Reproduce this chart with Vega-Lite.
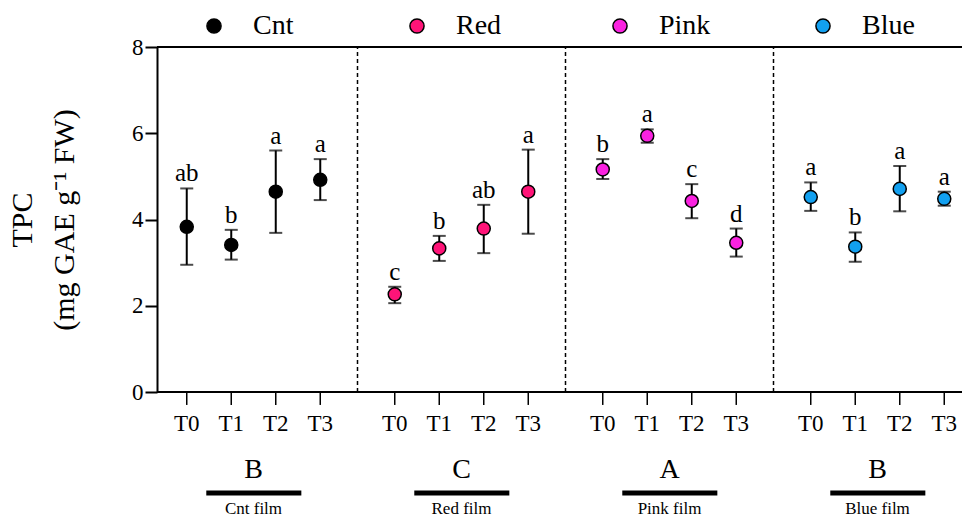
{
  "$schema": "https://vega.github.io/schema/vega-lite/v6.json",
  "width": 805,
  "height": 345,
  "autosize": {"type": "none"},
  "padding": {"left": 157, "top": 47, "right": 0, "bottom": 127},
  "background": "white",
  "config": {
    "view": {"stroke": null},
    "font": "Liberation Serif",
    "text": {"font": "Liberation Serif", "color": "black"}
  },
  "datasets": {
    "tpc": [
      {"group": "Cnt", "time": "T0", "mean": 3.83, "lo": 2.95, "hi": 4.72, "sig": "ab"},
      {"group": "Cnt", "time": "T1", "mean": 3.41, "lo": 3.07, "hi": 3.76, "sig": "b"},
      {"group": "Cnt", "time": "T2", "mean": 4.645, "lo": 3.69, "hi": 5.6, "sig": "a"},
      {"group": "Cnt", "time": "T3", "mean": 4.92, "lo": 4.45, "hi": 5.4, "sig": "a"},
      {"group": "Red", "time": "T0", "mean": 2.265, "lo": 2.06, "hi": 2.44, "sig": "c"},
      {"group": "Red", "time": "T1", "mean": 3.33, "lo": 3.04, "hi": 3.62, "sig": "b"},
      {"group": "Red", "time": "T2", "mean": 3.79, "lo": 3.22, "hi": 4.34, "sig": "ab"},
      {"group": "Red", "time": "T3", "mean": 4.645, "lo": 3.67, "hi": 5.62, "sig": "a"},
      {"group": "Pink", "time": "T0", "mean": 5.16, "lo": 4.94, "hi": 5.4, "sig": "b"},
      {"group": "Pink", "time": "T1", "mean": 5.94, "lo": 5.78, "hi": 6.09, "sig": "a"},
      {"group": "Pink", "time": "T2", "mean": 4.43, "lo": 4.03, "hi": 4.82, "sig": "c"},
      {"group": "Pink", "time": "T3", "mean": 3.46, "lo": 3.14, "hi": 3.79, "sig": "d"},
      {"group": "Blue", "time": "T0", "mean": 4.52, "lo": 4.2, "hi": 4.86, "sig": "a"},
      {"group": "Blue", "time": "T1", "mean": 3.37, "lo": 3.02, "hi": 3.7, "sig": "b"},
      {"group": "Blue", "time": "T2", "mean": 4.71, "lo": 4.19, "hi": 5.24, "sig": "a"},
      {"group": "Blue", "time": "T3", "mean": 4.48, "lo": 4.32, "hi": 4.645, "sig": "a"}
    ],
    "groups": [
      {"group": "Cnt", "letter": "B", "film": "Cnt film"},
      {"group": "Red", "letter": "C", "film": "Red film"},
      {"group": "Pink", "letter": "A", "film": "Pink film"},
      {"group": "Blue", "letter": "B", "film": "Blue film"}
    ],
    "frame": [{"edge": "top"}]
  },
  "layer": [
    {
      "data": {"name": "groups"},
      "transform": [{"filter": "datum.group != 'Cnt'"}],
      "mark": {"type": "rule", "color": "black", "strokeWidth": 1.5, "strokeDash": [4, 3]},
      "encoding": {
        "x": {"field": "group", "type": "nominal", "bandPosition": 0,
              "scale": {"type": "band", "domain": ["Cnt", "Red", "Pink", "Blue"], "range": [-7.5, 824.5], "paddingInner": 0, "paddingOuter": 0},
              "axis": null},
        "y": {"datum": 0, "type": "quantitative",
              "scale": {"domain": [0, 8], "nice": false, "zero": true},
              "axis": {
                "values": [0, 2, 4, 6, 8],
                "grid": false,
                "domainColor": "black", "domainWidth": 2,
                "tickColor": "black", "tickWidth": 2, "tickSize": 12,
                "labelFont": "Liberation Serif", "labelFontSize": 23, "labelColor": "black", "labelPadding": 2,
                "title": ["TPC", "(mg GAE g⁻¹ FW)"],
                "titleFont": "Liberation Serif", "titleFontSize": 30, "titleFontWeight": "normal", "titleColor": "black",
                "titleLineHeight": 42,
                "titlePadding": 52
              }},
        "y2": {"datum": 8}
      }
    },
    {
      "data": {"name": "frame"},
      "mark": {"type": "rule", "color": "black", "strokeWidth": 2},
      "encoding": {"y": {"datum": 8, "type": "quantitative"}}
    },
    {
      "data": {"name": "frame"},
      "mark": {"type": "rule", "color": "black", "strokeWidth": 2},
      "encoding": {"y": {"datum": 0, "type": "quantitative"}}
    },
    {
      "data": {"name": "tpc"},
      "mark": {"type": "rule", "color": "black", "strokeWidth": 1.5},
      "encoding": {
        "x": {"field": "group", "type": "nominal", "scale": {"type": "band"}},
        "xOffset": {"field": "time", "type": "nominal", "scale": {"type": "point", "padding": 0.837}},
        "y": {"datum": 0, "type": "quantitative"},
        "y2": {"datum": -0.3}
      }
    },
    {
      "data": {"name": "tpc"},
      "mark": {"type": "text", "fontSize": 23, "baseline": "alphabetic", "font": "Liberation Serif"},
      "encoding": {
        "x": {"field": "group", "type": "nominal", "scale": {"type": "band"}},
        "xOffset": {"field": "time", "type": "nominal", "scale": {"type": "point", "padding": 0.837}},
        "y": {"datum": -0.9, "type": "quantitative"},
        "text": {"field": "time"}
      }
    },
    {
      "data": {"name": "tpc"},
      "mark": {"type": "rule", "color": "black", "strokeWidth": 2},
      "encoding": {
        "x": {"field": "group", "type": "nominal", "scale": {"type": "band"}},
        "xOffset": {"field": "time", "type": "nominal", "scale": {"type": "point", "padding": 0.837}},
        "y": {"field": "lo", "type": "quantitative"},
        "y2": {"field": "hi"}
      }
    },
    {
      "data": {"name": "tpc"},
      "mark": {"type": "tick", "color": "black", "size": 13, "thickness": 2, "orient": "horizontal"},
      "encoding": {
        "x": {"field": "group", "type": "nominal", "scale": {"type": "band"}},
        "xOffset": {"field": "time", "type": "nominal", "scale": {"type": "point", "padding": 0.837}},
        "y": {"field": "lo", "type": "quantitative"}
      }
    },
    {
      "data": {"name": "tpc"},
      "mark": {"type": "tick", "color": "black", "size": 13, "thickness": 2, "orient": "horizontal"},
      "encoding": {
        "x": {"field": "group", "type": "nominal", "scale": {"type": "band"}},
        "xOffset": {"field": "time", "type": "nominal", "scale": {"type": "point", "padding": 0.837}},
        "y": {"field": "hi", "type": "quantitative"}
      }
    },
    {
      "data": {"name": "tpc"},
      "mark": {"type": "point", "shape": "circle", "filled": true, "size": 170, "stroke": "black", "strokeWidth": 1.5, "opacity": 1},
      "encoding": {
        "x": {"field": "group", "type": "nominal", "scale": {"type": "band"}},
        "xOffset": {"field": "time", "type": "nominal", "scale": {"type": "point", "padding": 0.837}},
        "y": {"field": "mean", "type": "quantitative"},
        "fill": {"field": "group", "type": "nominal",
                 "scale": {"domain": ["Cnt", "Red", "Pink", "Blue"], "range": ["#000000", "#FF1478", "#FA22E0", "#12A0F0"]},
                 "legend": {
                   "orient": "none", "legendX": 43, "legendY": -35,
                   "direction": "horizontal", "columns": 4, "gridAlign": "all", "columnPadding": 97,
                   "title": null, "padding": 0,
                   "symbolType": "circle", "symbolSize": 200, "symbolStrokeColor": "black", "symbolStrokeWidth": 1.5,
                   "labelFont": "Liberation Serif", "labelFontSize": 28, "labelOffset": 25, "labelColor": "black", "labelLimit": 200
                 }}
      }
    },
    {
      "data": {"name": "tpc"},
      "mark": {"type": "text", "fontSize": 25, "baseline": "alphabetic", "dy": -7, "font": "Liberation Serif"},
      "encoding": {
        "x": {"field": "group", "type": "nominal", "scale": {"type": "band"}},
        "xOffset": {"field": "time", "type": "nominal", "scale": {"type": "point", "padding": 0.837}},
        "y": {"field": "hi", "type": "quantitative"},
        "text": {"field": "sig"}
      }
    },
    {
      "data": {"name": "groups"},
      "mark": {"type": "text", "fontSize": 28, "baseline": "middle", "font": "Liberation Serif"},
      "encoding": {
        "x": {"field": "group", "type": "nominal", "scale": {"type": "band"}},
        "y": {"datum": -1.81, "type": "quantitative"},
        "text": {"field": "letter"}
      }
    },
    {
      "data": {"name": "groups"},
      "mark": {"type": "rule", "color": "black", "strokeWidth": 5},
      "encoding": {
        "x": {"field": "group", "type": "nominal", "bandPosition": 0.273, "scale": {"type": "band"}},
        "x2": {"field": "group", "bandPosition": 0.73},
        "y": {"datum": -2.342, "type": "quantitative"}
      }
    },
    {
      "data": {"name": "groups"},
      "mark": {"type": "text", "fontSize": 17, "baseline": "alphabetic", "font": "Liberation Serif"},
      "encoding": {
        "x": {"field": "group", "type": "nominal", "scale": {"type": "band"}},
        "y": {"datum": -2.83, "type": "quantitative"},
        "text": {"field": "film"}
      }
    }
  ]
}
